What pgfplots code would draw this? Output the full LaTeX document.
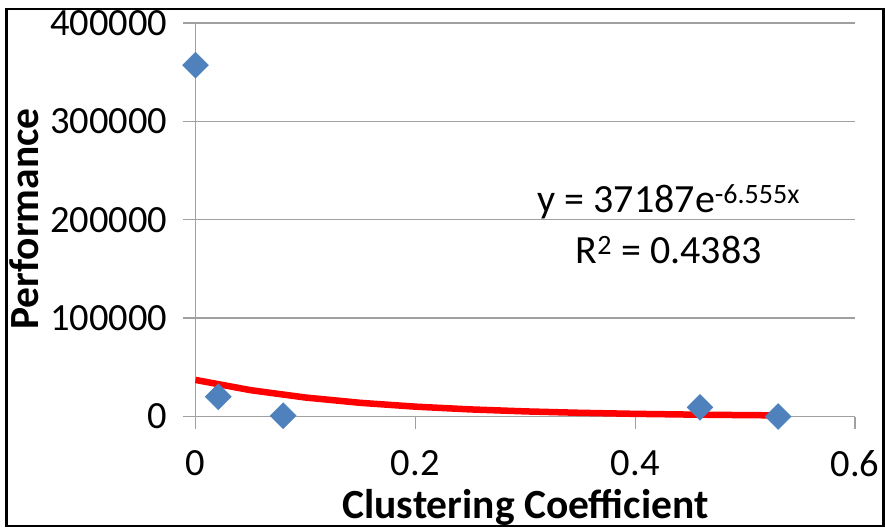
\documentclass[border=0pt]{standalone}
\usepackage{pgfplots}
\pgfplotsset{compat=1.18}
\usepackage{fontspec}
\setmainfont{Carlito}
\definecolor{mblue}{RGB}{79,129,189}
\definecolor{gridc}{RGB}{160,160,160}
\begin{document}
\begin{tikzpicture}
\useasboundingbox (0,0) rectangle (885bp,-529bp);
\begin{axis}[
  at={(195.5bp,-416.5bp)}, anchor=south west,
  scale only axis, width=659.5bp, height=393.5bp,
  xmin=0, xmax=0.6, ymin=0, ymax=400000,
  axis x line=bottom, axis y line=left,
  axis line style={gridc, line width=1.3bp, -},
  scaled y ticks=false, scaled x ticks=false,
  xtick={0,0.2,0.4,0.6}, xticklabels={0,0.2,0.4,0.6},
  ytick={0,100000,200000,300000,400000},
  yticklabels={0,100000,200000,300000,400000},
  tick align=outside, major tick length=12.5bp,
  tick style={gridc, line width=1.3bp},
  ymajorgrids, grid style={gridc, line width=1.3bp},
  ticklabel style={font=\fontsize{38.5bp}{44bp}\selectfont},
  xticklabel style={yshift=-18bp},
  yticklabel style={xshift=-12bp},
  /pgf/number format/assume math mode=true,
  clip=false,
]
\addplot[red, line width=6.5bp] coordinates {
 (0,37187) (0.05,26790) (0.1,19300) (0.15,13905) (0.2,10017) (0.25,7217)
 (0.3,5200) (0.35,3747) (0.4,2701) (0.45,1946) (0.5,1402) (0.53,1152)};
\addplot[only marks, mark=diamond*, mark size=13bp, color=mblue,
  mark options={xscale=1.333, fill=mblue, draw=mblue}] coordinates {
 (0,357200) (0.0207,20100) (0.0798,800) (0.459,9300) (0.53,0)};
\node[anchor=base, font=\fontsize{40bp}{46bp}\selectfont] at (axis cs:0.4305,207800) {y = 37187e\textsuperscript{-6.555x}};
\node[anchor=base, font=\fontsize{40bp}{46bp}\selectfont] at (axis cs:0.4305,156000) {R\textsuperscript{2} = 0.4383};
\end{axis}
\node[anchor=base, font=\fontsize{41.5bp}{48bp}\selectfont\bfseries] at (525.5bp,-518bp) {Clustering Coefficient};
\node[anchor=base, rotate=90, font=\fontsize{41.5bp}{48bp}\selectfont\bfseries] at (38bp,-219bp) {Performance};
\draw[black, line width=2.5bp] (6.5bp,-9bp) rectangle (883.5bp,-526bp);
\end{tikzpicture}
\end{document}
